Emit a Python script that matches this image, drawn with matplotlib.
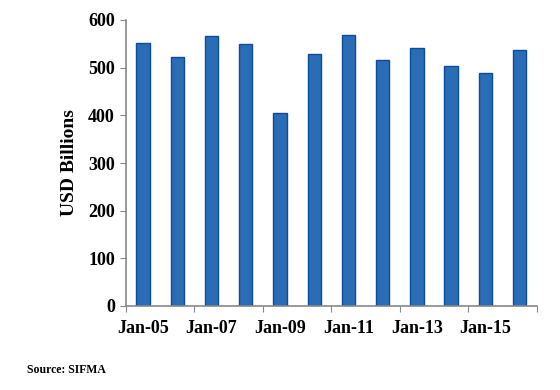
import matplotlib.pyplot as plt
import numpy as np

years = ['Jan-05', 'Jan-06', 'Jan-07', 'Jan-08', 'Jan-09', 'Jan-10',
         'Jan-11', 'Jan-12', 'Jan-13', 'Jan-14', 'Jan-15', 'Jan-16']
values = [552, 523, 567, 549, 405, 528, 568, 517, 542, 503, 489, 538]
yticks = [0, 100, 200, 300, 400, 500, 600]

plt.rcParams['font.family'] = ['Liberation Serif', 'DejaVu Serif']
plt.rcParams['font.weight'] = 'bold'

fig = plt.figure(figsize=(5.6, 3.9), dpi=100)
ax = fig.add_axes([126 / 560, 84 / 390, (536.7 - 126) / 560, (306 - 20) / 390])

x = np.arange(len(years))
ax.bar(x, values, width=0.39, color='#2b6cb6', edgecolor='#0b4c9c', linewidth=1.0)

ax.set_xlim(-0.5, len(years) - 0.5)
ax.set_ylim(0, 600)
ax.set_yticks(yticks)
ax.set_yticklabels([str(v) for v in yticks], fontsize=13, fontweight='bold')

# Excel-style: tick marks on category boundaries, labels every other year
ax.set_xticks(np.arange(-0.5, len(years), 2))
ax.set_xticklabels([])
ax.set_xticks(x[::2], minor=True)
ax.set_xticklabels(years[::2], minor=True, fontsize=13, fontweight='bold')
ax.tick_params(axis='x', which='minor', length=0, pad=10)
ax.tick_params(axis='x', which='major', length=4, color='#888888')
ax.tick_params(axis='y', length=4, color='#888888', pad=4)

for s in ['top', 'right']:
    ax.spines[s].set_visible(False)
for s in ['left', 'bottom']:
    ax.spines[s].set_color('#888888')
    ax.spines[s].set_linewidth(1.2)

ax.set_ylabel('USD Billions', fontsize=14, fontweight='bold', labelpad=7)
fig.text(27 / 560, 1 - 370 / 390, 'Source: SIFMA', fontsize=8.5, fontweight='bold',
         va='center', ha='left')

plt.savefig('out.png', dpi=100)
